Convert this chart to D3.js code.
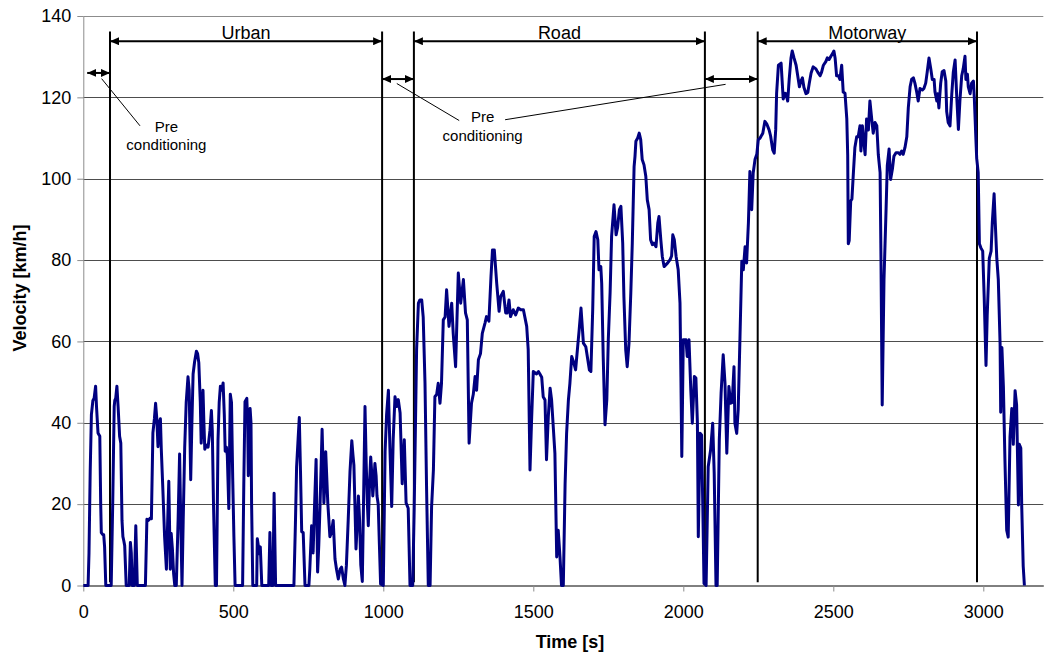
<!DOCTYPE html>
<html>
<head>
<meta charset="utf-8">
<script src="https://cdn.jsdelivr.net/npm/d3@7"></script>
<style>
  body { margin: 0; background: #fff; }
  svg text { font-family: "Liberation Sans", Arial, sans-serif; }
</style>
</head>
<body>
<div id="chart-area"></div>
<script>
// tick labels
var xTicks = [0, 500, 1000, 1500, 2000, 2500, 3000];
var yTicks = [0, 20, 40, 60, 80, 100, 120, 140];

// test phases (s)
var phaseNames = ["Urban", "Road", "Motorway"];
var phaseStart = [89, 1102, 2248];
var phaseEnd = [996, 2072, 2979];
var preStart = [13, 996, 2072];
var preEnd = [89, 1102, 2248];

// velocity trace: [time s, velocity km/h]
var trace = [
  [0,0],[16,0],[19,8],[23,28],[27,42],[32,45.5],[36,46],[41,49],[44,44],[49,37.5],[55,36.7],[58,20],[60,13],[65,12.5],[68,12.5],[71,9.5],[75,0],
  [93,0],[98,20],[103,44],[105,45.5],[108,46],[112,49],[116,44],[121,36.7],[125,35],[129,16],[132,12],[135,11],[138,9.8],[143,0],[153,0],[157,10.6],[160,8],[163,0],[170,0],[175,14.7],[180,0],
  [207,0],[212,16.3],[217,16],[222,16.5],[227,16.4],[232,37.5],[237,41],[241,44.8],[245,41],[249,34.1],[253,40],[257,41],[260,33.5],[265,24],[271,12],[277,4],[281,15],[285,25.6],[290,4],[293,12.8],[297,9],[301,3],[305,0],[310,0],[316,16],[321,32.3],[325,15],[329,0],[333,16],[338,34],[343,45],[349,51.3],[353,48],[358,26],[362,40],[366,52],[371,55],[377,57.6],[381,57],[385,54.8],[390,45],[393,35],[396,40],[399,48],[402,40],[405,33.5],[410,34.5],[416,34],[422,38],[427,43],[430,38],[434,20],[440,0],[444,0],[449,35.7],[453,45],[457,49],[462,48],[466,49.8],[470,42],[473,33],[477,34],[480,32],[485,18.9],[490,47],[494,45],[498,26.5],[502,12],[506,0],
  [531,0],[535,25],[539,45.2],[545,46],[548,40],[550,27],[553,35],[556,43.5],[559,40],[561,20],[565,0],[578,0],[580,11.5],[583,10],[586,7.8],[590,9.5],[595,0],[618,0],[622,13],[626,0],[632,0],[636,22.7],[641,0],
  [702,0],[707,15],[711,29.2],[716,36],[720,41.3],[724,28],[728,13.2],[733,13],[739,0],[752,0],[755,4],[761,14.7],[766,8],[771,20],[776,31],[781,3.3],[785,10],[789,19.5],[793,30],[796,38.4],[799,30],[802,20.3],[805,25],[808,32.9],[815,20.3],[822,12],[827,13],[833,16],[839,6.5],[844,4],[850,1.6],[856,4],[861,4.5],[867,1.6],[872,0],
  [877,5],[883,16],[889,28],[895,35.6],[899,32],[902,29.6],[906,18],[909,9],[913,15],[917,22],[921,16],[925,5],[930,1],[934,20],[939,44],[943,30],[947,20],[950,14.7],[954,25],[958,31.6],[962,27],[965,22],[969,26],[972,30],[976,27],[979,22],[983,20],[987,10],[991,0.4],[1000,0],
  [1006,33],[1011,42],[1017,48],[1022,34],[1028,19.4],[1033,36],[1039,46.4],[1045,44],[1050,45.7],[1056,42.4],[1063,25],[1070,35.8],[1076,20.3],[1083,19],[1089,0],[1098,0],
  [1103,19],[1111,58],[1117,69.4],[1122,70.2],[1128,70.2],[1133,66],[1139,49.7],[1144,25],[1150,0],[1156,0],[1161,19.4],[1167,28.4],[1172,46.4],[1178,47],[1183,49.7],[1189,44.8],[1194,49.7],[1200,65.3],[1206,66],[1211,72.7],[1219,63.7],[1228,69.4],[1233,62],[1241,53.8],[1250,76.8],[1258,69.4],[1267,75.2],[1274,67],[1280,65.3],[1286,35],[1294,44.8],[1300,47],[1306,51.4],[1311,48],[1317,55.5],[1324,57],[1330,62],[1339,64.5],[1344,66.1],[1352,65],[1359,76],[1364,82.5],[1370,82.5],[1378,74.3],[1386,67.4],[1391,71],[1400,72.3],[1408,67],[1413,67],[1419,70.2],[1424,66.1],[1433,67.8],[1441,66.5],[1450,68.2],[1458,67.8],[1467,67.8],[1478,63.7],[1483,58],[1489,28.4],[1494,40],[1500,52.6],[1511,52],[1517,52.6],[1522,52],[1528,51.2],[1533,46.4],[1539,45.6],[1544,30.9],[1550,41.5],[1556,48.5],[1561,45.6],[1572,32.5],[1578,7],[1583,13.6],[1589,7],[1594,0],[1600,0],
  [1606,25],[1611,37.4],[1617,45.6],[1622,49.7],[1628,56.3],[1634,55],[1641,53],[1647,58],[1653,62.9],[1659,68.2],[1667,59.6],[1675,58.7],[1680,56.3],[1687,53],[1692,52.6],[1698,67.8],[1703,85.8],[1709,87],[1715,85],[1719,77.6],[1725,78.4],[1728,74.3],[1733,56.3],[1739,39.5],[1745,45.6],[1750,60.4],[1756,72],[1761,85.8],[1769,93.6],[1776,86.2],[1781,88],[1787,92.4],[1792,93.2],[1798,84.2],[1802,71],[1808,58],[1813,53.8],[1819,59.6],[1825,71.9],[1830,84.2],[1836,103],[1839,105.5],[1842,109.2],[1848,110],[1853,111.2],[1858,109.6],[1863,104.7],[1869,103.4],[1875,100.6],[1880,94.8],[1886,92.4],[1891,85],[1897,83.8],[1902,84.2],[1909,83.3],[1915,89.1],[1919,90.7],[1925,85],[1930,80.9],[1936,78.4],[1948,79.3],[1956,80.1],[1961,81],[1965,86.2],[1970,85],[1976,80.9],[1983,77.6],[1989,69.4],[1992,51.4],[1995,31.7],
  [2000,60.4],[2009,60.4],[2013,56.3],[2019,60.4],[2025,48],[2030,39.9],[2037,51.4],[2042,51],[2047,40],[2050,12],[2056,37.4],[2061,37],[2065,19.4],[2069,0.5],[2076,0],[2083,29.2],[2091,33.3],[2098,39.9],[2103,27.6],[2109,0],[2113,0],[2120,35.8],[2126,47.3],[2133,56.7],[2139,49.7],[2145,32.5],[2152,48.9],[2158,44.8],[2163,45],[2169,53.8],[2172,39.9],[2178,37.4],[2183,43.2],[2189,61.2],[2195,79.7],[2200,77.6],[2206,83.3],[2211,79.3],[2217,89.1],[2222,101.8],[2228,92.4],[2233,101.4],[2239,104.7],[2245,106],
  [2250,109.6],[2256,110],[2265,111.2],[2272,114.1],[2278,113.5],[2286,112],[2291,110.5],[2298,107.1],[2303,106.3],[2308,112],[2311,120.9],[2317,127.9],[2326,128.4],[2333,119.6],[2339,121],[2342,120.9],[2348,119.1],[2353,124.4],[2359,129.7],[2363,131.4],[2369,129.7],[2376,127.9],[2381,125.5],[2387,122.6],[2392,124],[2397,124.8],[2402,122.5],[2409,120.9],[2415,121.2],[2420,123.5],[2426,126],[2433,127.5],[2442,127],[2448,126.2],[2456,125.3],[2461,126.2],[2467,127.9],[2475,128.8],[2480,129.7],[2486,129.3],[2492,130.1],[2498,130.8],[2502,131.4],[2506,129.7],[2511,125.3],[2517,125.3],[2522,124.4],[2528,127.9],[2533,121.3],[2539,121],[2545,114.7],[2548,105.9],[2550,84],[2553,84.8],[2558,94.5],[2562,95],[2567,101.5],[2572,107.7],[2578,110.3],[2583,110.3],[2589,113],[2592,106.8],[2597,113],[2600,110.3],[2606,105.9],[2611,114.7],[2617,112],[2622,119.1],[2628,114.7],[2633,111.2],[2639,113.8],[2645,113],[2650,105.9],[2656,101.5],[2659,79.6],[2663,44.4],[2669,75.2],[2676,92.7],[2680,103.3],[2686,107.3],[2691,99.8],[2697,102.4],[2702,105.5],[2709,106.4],[2717,106.4],[2722,106],[2728,106.8],[2733,106],[2739,107.7],[2745,110.3],[2750,117.4],[2756,122.6],[2761,124.4],[2767,124.8],[2772,123.5],[2778,121.3],[2783,119.1],[2789,122.2],[2797,121.8],[2802,122.2],[2808,123.5],[2813,126.2],[2819,129.7],[2825,127],[2830,124.4],[2836,124.4],[2839,121.3],[2845,119.1],[2848,120.9],[2852,117.4],[2858,123.5],[2863,126.3],[2869,126.6],[2875,124],[2878,116.5],[2883,113.8],[2889,113],[2895,120.9],[2900,126.2],[2906,129.2],[2911,120.9],[2917,112.1],[2922,119.1],[2928,125.3],[2933,127],[2939,130.1],[2942,124.4],[2947,125.7],[2950,122.6],[2956,120.9],[2961,123.5],[2967,124],[2970,120],[2975,110.3],
  [2978,105],[2983,101.5],[2987,84],[2992,83],[2998,82.2],[3003,70.8],[3009,54.1],[3013,66.4],[3020,80.4],[3026,82.2],[3030,89.2],[3036,96.3],[3040,89],[3045,80.4],[3050,75.2],[3056,59.3],[3058,42.6],[3062,58.5],[3067,48.8],[3072,31.2],[3078,13.6],[3083,11.9],[3089,36.5],[3095,43.5],[3100,34.7],[3106,47.9],[3111,44.4],[3117,19.8],[3120,34.7],[3125,33.8],[3128,19.8],[3133,4.8],[3137,0]
];

var W = 1046, H = 654;
var svg = d3.select("#chart-area")
  .append("svg")
  .attr("width", W)
  .attr("height", H);

var x = d3.scaleLinear().domain([0, 3200]).range([83.3, 1043.3]);
var y = d3.scaleLinear().domain([0, 140]).range([585.5, 16]);

// arrow head
var defs = svg.append("defs");
defs.append("marker")
  .attr("id", "head")
  .attr("markerUnits", "userSpaceOnUse")
  .attr("markerWidth", 9)
  .attr("markerHeight", 8)
  .attr("refX", 9)
  .attr("refY", 4)
  .attr("orient", "auto-start-reverse")
  .append("path")
  .attr("d", "M0,0 L9,4 L0,8 Z")
  .attr("fill", "#000");

// gridlines
svg.append("g")
  .selectAll("line")
  .data(yTicks.filter(d => d > 0 && d < 140))
  .enter()
  .append("line")
  .attr("x1", x(0))
  .attr("x2", x(3200))
  .attr("y1", d => Math.round(y(d)) + 0.5)
  .attr("y2", d => Math.round(y(d)) + 0.5)
  .attr("stroke", "#4d4d4d")
  .attr("stroke-width", 1);

// top border
svg.append("line")
  .attr("x1", x(0)).attr("x2", x(3200))
  .attr("y1", Math.round(y(140)) + 0.5).attr("y2", Math.round(y(140)) + 0.5)
  .attr("stroke", "#8c8c8c");

// y axis
var yAxisCall = d3.axisLeft(y).tickValues(yTicks).tickSize(6).tickSizeOuter(0);
var yAxis = svg.append("g")
  .attr("class", "y axis")
  .attr("transform", "translate(" + x(0) + ",0)")
  .call(yAxisCall);
yAxis.select(".domain").attr("stroke", "#8c8c8c");
yAxis.selectAll(".tick line").attr("stroke", "#8c8c8c");
yAxis.selectAll("text")
  .attr("x", -12)
  .attr("font-size", "18px")
  .attr("fill", "#000");

// x axis
var xAxisCall = d3.axisBottom(x)
  .tickValues(xTicks)
  .tickFormat(d3.format("d"))
  .tickSize(6)
  .tickSizeOuter(0);
var xAxis = svg.append("g")
  .attr("class", "x axis")
  .attr("transform", "translate(0," + y(0) + ")")
  .call(xAxisCall);
xAxis.select(".domain").attr("stroke", "#000");
xAxis.selectAll(".tick line").attr("stroke", "#8c8c8c");
xAxis.selectAll("text")
  .attr("y", 20)
  .attr("font-size", "18px")
  .attr("fill", "#000");

// phase boundaries
var bounds = Array.from(new Set(phaseStart.concat(phaseEnd))).sort((a, b) => a - b);
svg.append("g")
  .selectAll("line")
  .data(bounds)
  .enter()
  .append("line")
  .attr("x1", d => x(d))
  .attr("x2", d => x(d))
  .attr("y1", y(136.2))
  .attr("y2", y(0.8))
  .attr("stroke", "#000")
  .attr("stroke-width", 2);

// phase arrows and names
var phases = phaseNames.map((name, i) => ({ name: name, t0: phaseStart[i], t1: phaseEnd[i] }));
svg.append("g")
  .selectAll("line")
  .data(phases)
  .enter()
  .append("line")
  .attr("x1", d => x(d.t0))
  .attr("x2", d => x(d.t1))
  .attr("y1", y(133.8))
  .attr("y2", y(133.8))
  .attr("stroke", "#000")
  .attr("stroke-width", 2)
  .attr("marker-start", "url(#head)")
  .attr("marker-end", "url(#head)");

svg.append("g")
  .selectAll("text")
  .data(phases)
  .enter()
  .append("text")
  .attr("x", d => x((d.t0 + d.t1) / 2))
  .attr("y", y(134.4))
  .attr("text-anchor", "middle")
  .attr("font-size", "18px")
  .text(d => d.name);

// pre conditioning arrows
var pre = preStart.map((t0, i) => ({ t0: t0, t1: preEnd[i], v: i === 0 ? 126 : 124.5 }));
svg.append("g")
  .selectAll("line")
  .data(pre)
  .enter()
  .append("line")
  .attr("x1", d => x(d.t0))
  .attr("x2", d => x(d.t1))
  .attr("y1", d => y(d.v))
  .attr("y2", d => y(d.v))
  .attr("stroke", "#000")
  .attr("stroke-width", 2)
  .attr("marker-start", "url(#head)")
  .attr("marker-end", "url(#head)");

// leader lines to the labels
var leaders = [
  [61, 124.6, 189, 113],
  [1045, 123.4, 1253, 114.3],
  [1406, 114.5, 2141, 123.2]
];
svg.append("g")
  .selectAll("line")
  .data(leaders)
  .enter()
  .append("line")
  .attr("x1", d => x(d[0]))
  .attr("y1", d => y(d[1]))
  .attr("x2", d => x(d[2]))
  .attr("y2", d => y(d[3]))
  .attr("stroke", "#000")
  .attr("stroke-width", 1);

var preLabels = [[277, 111.6], [1331, 113.9]];
preLabels.forEach(function(p) {
  var t = svg.append("text")
    .attr("x", x(p[0]))
    .attr("y", y(p[1]))
    .attr("text-anchor", "middle")
    .attr("font-size", "15px");
  t.append("tspan").attr("x", x(p[0])).text("Pre");
  t.append("tspan").attr("x", x(p[0])).attr("dy", 18.5).text("conditioning");
});

// velocity line
var line = d3.line()
  .x(d => x(d[0]))
  .y(d => y(d[1]));

svg.append("path")
  .datum(trace)
  .attr("d", line)
  .attr("fill", "none")
  .attr("stroke", "#000080")
  .attr("stroke-width", 3)
  .attr("stroke-linejoin", "round");

// axis titles
svg.append("text")
  .attr("class", "x axis-label")
  .attr("x", 570)
  .attr("y", 648)
  .attr("font-size", "18px")
  .attr("font-weight", "bold")
  .attr("text-anchor", "middle")
  .text("Time [s]");

svg.append("text")
  .attr("class", "y axis-label")
  .attr("x", -288)
  .attr("y", 26)
  .attr("font-size", "18px")
  .attr("font-weight", "bold")
  .attr("text-anchor", "middle")
  .attr("transform", "rotate(-90)")
  .text("Velocity [km/h]");
</script>
</body>
</html>
